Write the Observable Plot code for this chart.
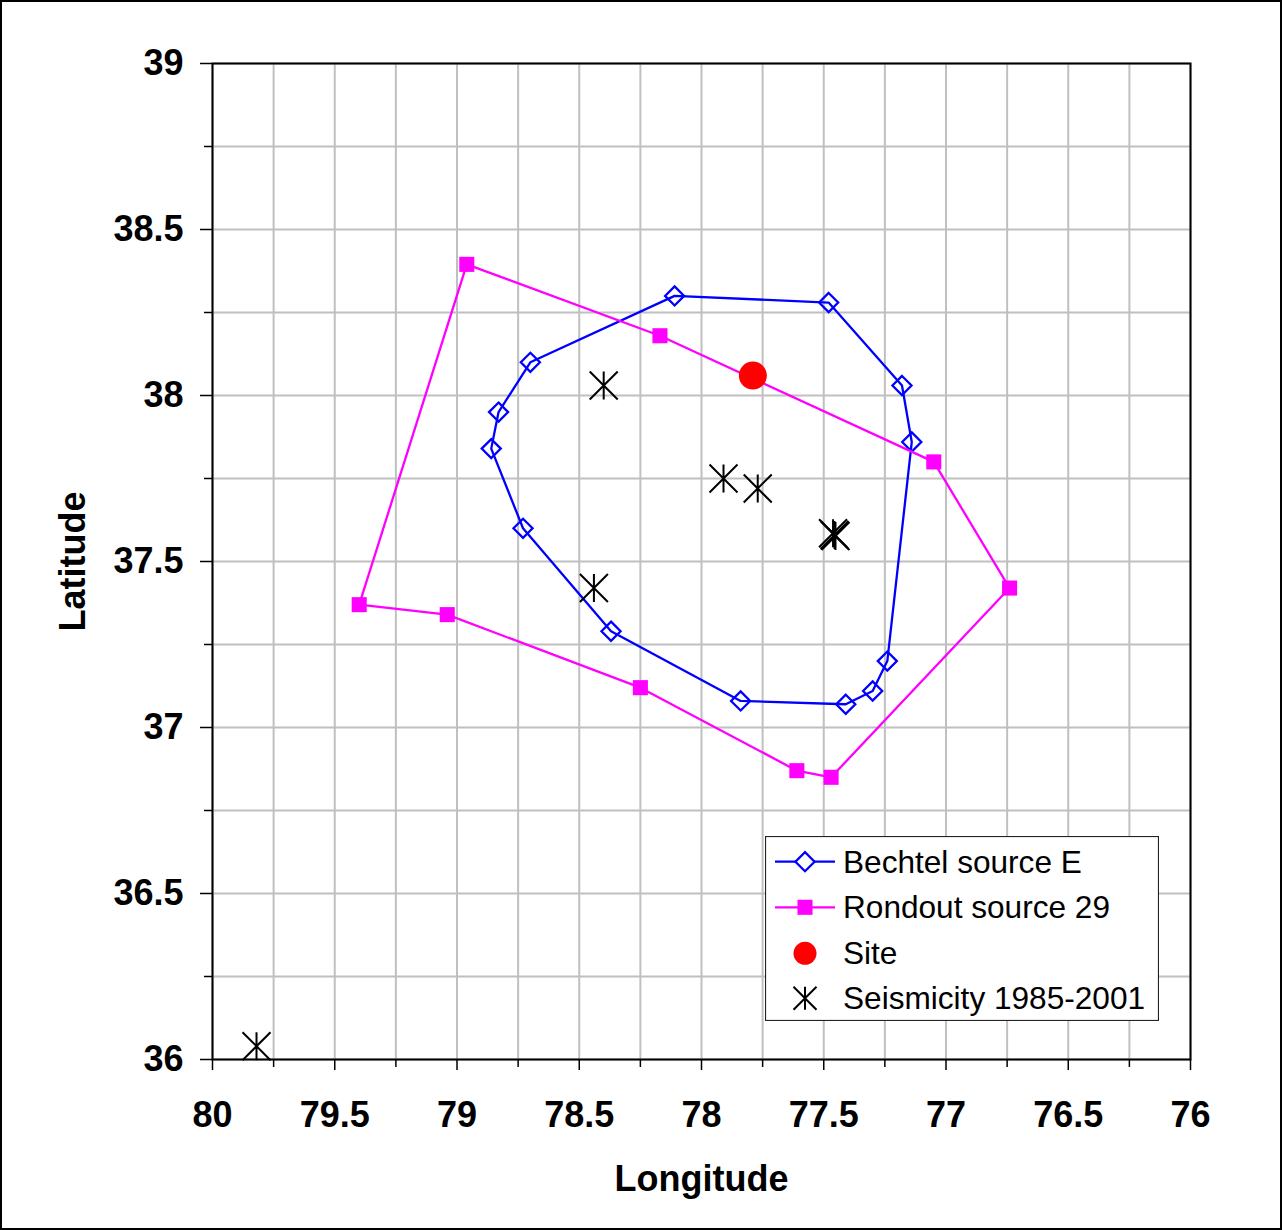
<!DOCTYPE html>
<html><head><meta charset="utf-8">
<script src="https://cdn.jsdelivr.net/npm/d3@7"></script>
<script src="https://cdn.jsdelivr.net/npm/@observablehq/plot@0.6"></script>
<style>
html,body{margin:0;padding:0;background:#fff;}
#wrap{position:relative;width:1282px;height:1230px;overflow:hidden;font-family:"Liberation Sans",Arial,sans-serif;}
#border{position:absolute;left:0;top:0;width:1282px;height:1230px;box-sizing:border-box;border:2px solid #000;pointer-events:none;}
#legend{position:absolute;left:765px;top:836px;}
#chart svg{display:block;}
</style></head><body>
<div id="wrap"><div id="chart"></div><div id="legend"></div><div id="border"></div></div>
<script>
// Bechtel source E (polygon vertices)
const bechtelLon = [78.11, 77.48, 77.18, 77.14, 77.24, 77.30, 77.41, 77.84, 78.37, 78.73, 78.86, 78.83, 78.70];
const bechtelLat = [38.30, 38.28, 38.03, 37.86, 37.20, 37.11, 37.07, 37.08, 37.29, 37.60, 37.84, 37.95, 38.10];
// Rondout source 29 (polygon vertices)
const rondoutLon = [78.96, 78.17, 77.05, 76.74, 77.47, 77.61, 78.25, 79.04, 79.40];
const rondoutLat = [38.395, 38.18, 37.80, 37.42, 36.85, 36.87, 37.12, 37.34, 37.37];
// Site
const siteLon = [77.79];
const siteLat = [38.06];
// Seismicity 1985-2001
const seisLon = [78.40, 77.91, 77.77, 77.462, 77.456, 77.452, 78.44, 79.82];
const seisLat = [38.03, 37.75, 37.72, 37.585, 37.58, 37.577, 37.42, 36.04];
// Axis ticks
const xMajor = [80, 79.5, 79, 78.5, 78, 77.5, 77, 76.5, 76];
const xMinor = [79.75, 79.25, 78.75, 78.25, 77.75, 77.25, 76.75, 76.25];
const yMajor = [36, 36.5, 37, 37.5, 38, 38.5, 39];
const yMinor = [36.25, 36.75, 37.25, 37.75, 38.25, 38.75];
const xGrid = xMajor.concat(xMinor);
const yGrid = yMajor.concat(yMinor);
const legendLabels = ["Bechtel source E", "Rondout source 29", "Site", "Seismicity 1985-2001"];

const toRows = (lons, lats) => lons.map((lon, i) => ({lon, lat: lats[i]}));
const bechtel = toRows(bechtelLon, bechtelLat);
const rondout = toRows(rondoutLon, rondoutLat);
const site = toRows(siteLon, siteLat);
const seis = toRows(seisLon, seisLat);

// X with a vertical bar (Excel "star" marker)
const starSymbol = {
  draw(context, size) {
    const r = Math.sqrt(size / Math.PI);
    context.moveTo(-r, -r); context.lineTo(r, r);
    context.moveTo(-r, r); context.lineTo(r, -r);
    context.moveTo(0, -r); context.lineTo(0, r);
  }
};

const FONT = "'Liberation Sans', Arial, sans-serif";
const gridStyle = {stroke: "#c0c0c0", strokeOpacity: 1, strokeWidth: 2};

const chart = Plot.plot({
  width: 1282, height: 1230,
  marginLeft: 212, marginRight: 92, marginTop: 63, marginBottom: 171,
  x: {domain: [80, 76], label: null},
  y: {domain: [36, 39], label: null},
  style: {fontFamily: FONT, background: "white", color: "black", overflow: "visible"},
  marks: [
    Plot.gridX(xGrid, gridStyle),
    Plot.gridY(yGrid, gridStyle),
    Plot.axisX(xMajor, {tickSize: 11, tickPadding: 31, fontSize: 36, fontWeight: "bold", strokeWidth: 1.5, label: null, tickFormat: d => String(d)}),
    Plot.axisX(xMinor, {tickSize: 8, strokeWidth: 1.5, label: null, tickFormat: () => ""}),
    Plot.axisY(yMajor, {tickSize: 12, tickPadding: 17, fontSize: 36, fontWeight: "bold", strokeWidth: 1.5, label: null, tickFormat: d => String(d)}),
    Plot.axisY(yMinor, {tickSize: 8, strokeWidth: 1.5, label: null, tickFormat: () => ""}),
    Plot.frame({stroke: "black", strokeWidth: 2}),
    Plot.text(["Longitude"], {frameAnchor: "bottom", text: d => d, dy: 120, fontSize: 36, fontWeight: "bold", lineAnchor: "middle", textAnchor: "middle", fill: "black"}),
    Plot.text(["Latitude"], {frameAnchor: "left", text: d => d, dx: -139, rotate: -90, fontSize: 36, fontWeight: "bold", lineAnchor: "middle", textAnchor: "middle", fill: "black"}),
    Plot.line(bechtel, {x: "lon", y: "lat", curve: "linear-closed", stroke: "#0000ff", strokeWidth: 2.3}),
    Plot.dot(bechtel, {x: "lon", y: "lat", symbol: "diamond2", r: 8.6, stroke: "#0000ff", fill: "none", strokeWidth: 2.3}),
    Plot.line(rondout, {x: "lon", y: "lat", curve: "linear-closed", stroke: "#ff00ff", strokeWidth: 2.3}),
    Plot.dot(rondout, {x: "lon", y: "lat", symbol: "square", r: 8.5, fill: "#ff00ff", stroke: "none"}),
    Plot.dot(site, {x: "lon", y: "lat", r: 14, fill: "#ff0000", stroke: "none"}),
    Plot.dot(seis, {x: "lon", y: "lat", symbol: starSymbol, r: 14, stroke: "black", fill: "none", strokeWidth: 2})
  ]
});
document.getElementById("chart").appendChild(chart);

// Legend
const lw = 394, lh = 185;
const lsvg = d3.select("#legend").append("svg").attr("width", lw).attr("height", lh);
lsvg.append("rect").attr("x", 0.5).attr("y", 0.5).attr("width", lw - 1).attr("height", lh - 1)
  .attr("fill", "white").attr("stroke", "#222").attr("stroke-width", 1.2);
const rowsY = [25.7, 71.3, 117.3, 162.3];
// Bechtel
lsvg.append("line").attr("x1", 10).attr("x2", 70).attr("y1", rowsY[0]).attr("y2", rowsY[0]).attr("stroke", "#0000ff").attr("stroke-width", 2.3);
lsvg.append("path").attr("d", d3.symbol(d3.symbolDiamond2, Math.PI * 8.6 * 8.6)()).attr("transform", `translate(40,${rowsY[0]})`)
  .attr("fill", "white").attr("stroke", "#0000ff").attr("stroke-width", 2.3);
// Rondout
lsvg.append("line").attr("x1", 10).attr("x2", 70).attr("y1", rowsY[1]).attr("y2", rowsY[1]).attr("stroke", "#ff00ff").attr("stroke-width", 2.3);
lsvg.append("path").attr("d", d3.symbol(d3.symbolSquare, Math.PI * 8.5 * 8.5)()).attr("transform", `translate(40,${rowsY[1]})`).attr("fill", "#ff00ff");
// Site
lsvg.append("circle").attr("cx", 40).attr("cy", rowsY[2]).attr("r", 11.5).attr("fill", "#ff0000");
// Seismicity
lsvg.append("path").attr("d", d3.symbol(starSymbol, Math.PI * 11.5 * 11.5)()).attr("transform", `translate(40,${rowsY[3]})`)
  .attr("fill", "none").attr("stroke", "black").attr("stroke-width", 2);
legendLabels.forEach((t, i) => {
  lsvg.append("text").attr("x", 78).attr("y", rowsY[i] + 11).attr("font-family", FONT).attr("font-size", 31.6).attr("fill", "black").text(t);
});
</script>
</body></html>
